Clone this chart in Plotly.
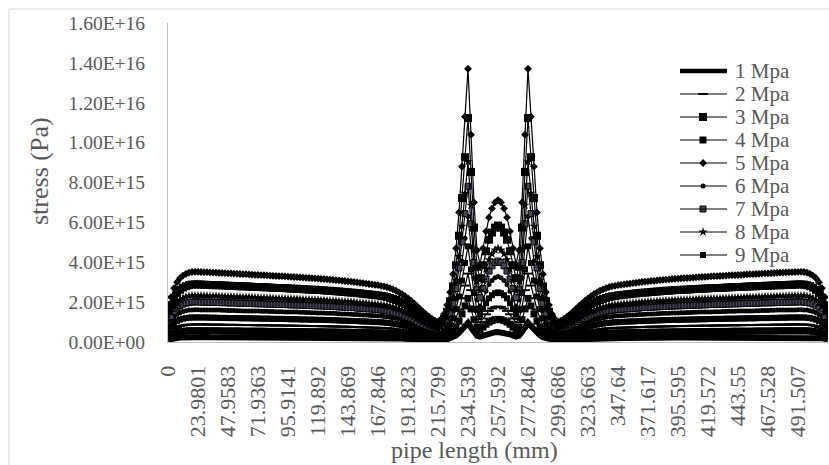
import plotly.graph_objects as go

# ---------------------------------------------------------------- data
# category axis: one label every LABEL_EVERY nodes along the pipe
TICK_LABELS = ["0", "23.9801", "47.9583", "71.9363", "95.9141", "119.892", "143.869",
               "167.846", "191.823", "215.799", "234.539", "257.592", "277.846", "299.686",
               "323.663", "347.64", "371.617", "395.595", "419.572", "443.55", "467.528",
               "491.507"]
LABEL_EVERY = 10

Y_TICKS = [0.0, 2e15, 4e15, 6e15, 8e15, 1e16, 1.2e16, 1.4e16, 1.6e16]
UNIT = 1e15  # stress values below are given in 1e15 Pa

SERIES_NAMES = ["1 Mpa", "2 Mpa", "3 Mpa", "4 Mpa", "5 Mpa",
                "6 Mpa", "7 Mpa", "8 Mpa", "9 Mpa"]

STRESS_1 = [
    0.12, 0.16, 0.19, 0.21, 0.22, 0.23, 0.24, 0.24, 0.25, 0.25,
    0.25, 0.25, 0.25, 0.25, 0.24, 0.24, 0.24, 0.24, 0.24, 0.24,
    0.24, 0.24, 0.24, 0.24, 0.24, 0.24, 0.24, 0.24, 0.24, 0.24,
    0.24, 0.23, 0.23, 0.23, 0.23, 0.23, 0.23, 0.23, 0.23, 0.23,
    0.23, 0.23, 0.23, 0.23, 0.23, 0.23, 0.23, 0.22, 0.22, 0.22,
    0.22, 0.22, 0.22, 0.22, 0.22, 0.22, 0.22, 0.22, 0.21, 0.21,
    0.21, 0.21, 0.21, 0.21, 0.21, 0.21, 0.21, 0.20, 0.20, 0.20,
    0.20, 0.20, 0.20, 0.19, 0.19, 0.18, 0.18, 0.17, 0.17, 0.16,
    0.15, 0.14, 0.14, 0.13, 0.12, 0.11, 0.10, 0.09, 0.08, 0.07,
    0.07, 0.08, 0.10, 0.13, 0.18, 0.24, 0.33, 0.46, 0.62, 0.79,
    0.96, 0.73, 0.49, 0.32, 0.27, 0.33, 0.39, 0.44, 0.47, 0.49,
    0.50,
    0.49, 0.47, 0.44, 0.39, 0.33, 0.27, 0.32, 0.49, 0.73, 0.96,
    0.79, 0.62, 0.46, 0.33, 0.24, 0.18, 0.13, 0.10, 0.08, 0.07,
    0.07, 0.08, 0.09, 0.10, 0.11, 0.12, 0.13, 0.14, 0.14, 0.15,
    0.16, 0.17, 0.17, 0.18, 0.18, 0.19, 0.19, 0.20, 0.20, 0.20,
    0.20, 0.20, 0.20, 0.21, 0.21, 0.21, 0.21, 0.21, 0.21, 0.21,
    0.21, 0.21, 0.22, 0.22, 0.22, 0.22, 0.22, 0.22, 0.22, 0.22,
    0.22, 0.22, 0.22, 0.23, 0.23, 0.23, 0.23, 0.23, 0.23, 0.23,
    0.23, 0.23, 0.23, 0.23, 0.23, 0.23, 0.23, 0.23, 0.23, 0.24,
    0.24, 0.24, 0.24, 0.24, 0.24, 0.24, 0.24, 0.24, 0.24, 0.24,
    0.24, 0.24, 0.24, 0.24, 0.24, 0.25, 0.25, 0.25, 0.25, 0.25,
    0.25, 0.25, 0.24, 0.24, 0.23, 0.22, 0.21, 0.19, 0.16, 0.12,
]

STRESS_2 = [
    0.41, 0.56, 0.68, 0.75, 0.80, 0.83, 0.86, 0.87, 0.88, 0.88,
    0.88, 0.88, 0.88, 0.88, 0.87, 0.87, 0.87, 0.87, 0.87, 0.86,
    0.86, 0.86, 0.86, 0.86, 0.85, 0.85, 0.85, 0.85, 0.85, 0.84,
    0.84, 0.84, 0.84, 0.84, 0.83, 0.83, 0.83, 0.83, 0.83, 0.82,
    0.82, 0.82, 0.82, 0.81, 0.81, 0.81, 0.81, 0.80, 0.80, 0.80,
    0.80, 0.79, 0.79, 0.79, 0.78, 0.78, 0.78, 0.77, 0.77, 0.77,
    0.76, 0.76, 0.75, 0.75, 0.74, 0.74, 0.73, 0.73, 0.72, 0.72,
    0.71, 0.71, 0.70, 0.69, 0.68, 0.66, 0.64, 0.62, 0.60, 0.58,
    0.55, 0.52, 0.49, 0.45, 0.42, 0.38, 0.35, 0.32, 0.29, 0.27,
    0.26, 0.29, 0.35, 0.46, 0.63, 0.85, 1.18, 1.63, 2.20, 2.83,
    3.43, 2.60, 1.75, 1.15, 0.98, 1.18, 1.39, 1.56, 1.68, 1.75,
    1.78,
    1.75, 1.68, 1.56, 1.39, 1.18, 0.98, 1.15, 1.75, 2.60, 3.43,
    2.83, 2.20, 1.63, 1.18, 0.85, 0.63, 0.46, 0.35, 0.29, 0.26,
    0.27, 0.29, 0.32, 0.35, 0.38, 0.42, 0.45, 0.49, 0.52, 0.55,
    0.58, 0.60, 0.62, 0.64, 0.66, 0.68, 0.69, 0.70, 0.71, 0.71,
    0.72, 0.72, 0.73, 0.73, 0.74, 0.74, 0.75, 0.75, 0.76, 0.76,
    0.77, 0.77, 0.77, 0.78, 0.78, 0.78, 0.79, 0.79, 0.79, 0.80,
    0.80, 0.80, 0.80, 0.81, 0.81, 0.81, 0.81, 0.82, 0.82, 0.82,
    0.82, 0.83, 0.83, 0.83, 0.83, 0.83, 0.84, 0.84, 0.84, 0.84,
    0.84, 0.85, 0.85, 0.85, 0.85, 0.85, 0.86, 0.86, 0.86, 0.86,
    0.86, 0.87, 0.87, 0.87, 0.87, 0.87, 0.88, 0.88, 0.88, 0.88,
    0.88, 0.88, 0.87, 0.86, 0.83, 0.80, 0.75, 0.68, 0.56, 0.41,
]

STRESS_3 = [
    1.35, 1.85, 2.21, 2.46, 2.62, 2.73, 2.80, 2.85, 2.88, 2.89,
    2.89, 2.88, 2.87, 2.87, 2.86, 2.85, 2.85, 2.85, 2.84, 2.83,
    2.82, 2.82, 2.81, 2.80, 2.80, 2.79, 2.79, 2.78, 2.77, 2.76,
    2.76, 2.75, 2.75, 2.74, 2.73, 2.72, 2.71, 2.71, 2.71, 2.70,
    2.69, 2.68, 2.67, 2.67, 2.66, 2.65, 2.64, 2.63, 2.62, 2.62,
    2.61, 2.60, 2.59, 2.57, 2.57, 2.56, 2.54, 2.53, 2.52, 2.51,
    2.49, 2.48, 2.47, 2.45, 2.44, 2.42, 2.40, 2.39, 2.37, 2.35,
    2.34, 2.31, 2.29, 2.26, 2.21, 2.16, 2.11, 2.04, 1.97, 1.89,
    1.80, 1.70, 1.59, 1.48, 1.36, 1.25, 1.14, 1.04, 0.95, 0.88,
    0.84, 0.94, 1.15, 1.52, 2.05, 2.79, 3.85, 5.33, 7.22, 9.27,
    11.23, 8.53, 5.74, 3.77, 3.20, 3.85, 4.55, 5.13, 5.49, 5.74,
    5.84,
    5.74, 5.49, 5.13, 4.55, 3.85, 3.20, 3.77, 5.74, 8.53, 11.23,
    9.27, 7.22, 5.33, 3.85, 2.79, 2.05, 1.52, 1.15, 0.94, 0.84,
    0.88, 0.95, 1.04, 1.14, 1.25, 1.36, 1.48, 1.59, 1.70, 1.80,
    1.89, 1.97, 2.04, 2.11, 2.16, 2.21, 2.26, 2.29, 2.31, 2.34,
    2.35, 2.37, 2.39, 2.40, 2.42, 2.44, 2.45, 2.47, 2.48, 2.49,
    2.51, 2.52, 2.53, 2.54, 2.56, 2.57, 2.57, 2.59, 2.60, 2.61,
    2.62, 2.62, 2.63, 2.64, 2.65, 2.66, 2.67, 2.67, 2.68, 2.69,
    2.70, 2.71, 2.71, 2.71, 2.72, 2.73, 2.74, 2.75, 2.75, 2.76,
    2.76, 2.77, 2.78, 2.79, 2.79, 2.80, 2.80, 2.81, 2.82, 2.82,
    2.83, 2.84, 2.85, 2.85, 2.85, 2.86, 2.87, 2.87, 2.88, 2.89,
    2.89, 2.88, 2.85, 2.80, 2.73, 2.62, 2.46, 2.21, 1.85, 1.35,
]

STRESS_4 = [
    0.26, 0.36, 0.43, 0.48, 0.51, 0.53, 0.55, 0.56, 0.56, 0.56,
    0.56, 0.56, 0.56, 0.56, 0.56, 0.56, 0.56, 0.56, 0.55, 0.55,
    0.55, 0.55, 0.55, 0.55, 0.55, 0.54, 0.54, 0.54, 0.54, 0.54,
    0.54, 0.54, 0.54, 0.53, 0.53, 0.53, 0.53, 0.53, 0.53, 0.53,
    0.52, 0.52, 0.52, 0.52, 0.52, 0.52, 0.52, 0.51, 0.51, 0.51,
    0.51, 0.51, 0.51, 0.50, 0.50, 0.50, 0.50, 0.49, 0.49, 0.49,
    0.49, 0.48, 0.48, 0.48, 0.48, 0.47, 0.47, 0.47, 0.46, 0.46,
    0.46, 0.45, 0.45, 0.44, 0.43, 0.42, 0.41, 0.40, 0.38, 0.37,
    0.35, 0.33, 0.31, 0.29, 0.27, 0.24, 0.22, 0.20, 0.19, 0.17,
    0.16, 0.18, 0.22, 0.30, 0.40, 0.54, 0.75, 1.04, 1.41, 1.81,
    2.19, 1.66, 1.12, 0.74, 0.62, 0.75, 0.89, 1.00, 1.07, 1.12,
    1.14,
    1.12, 1.07, 1.00, 0.89, 0.75, 0.62, 0.74, 1.12, 1.66, 2.19,
    1.81, 1.41, 1.04, 0.75, 0.54, 0.40, 0.30, 0.22, 0.18, 0.16,
    0.17, 0.19, 0.20, 0.22, 0.24, 0.27, 0.29, 0.31, 0.33, 0.35,
    0.37, 0.38, 0.40, 0.41, 0.42, 0.43, 0.44, 0.45, 0.45, 0.46,
    0.46, 0.46, 0.47, 0.47, 0.47, 0.48, 0.48, 0.48, 0.48, 0.49,
    0.49, 0.49, 0.49, 0.50, 0.50, 0.50, 0.50, 0.51, 0.51, 0.51,
    0.51, 0.51, 0.51, 0.52, 0.52, 0.52, 0.52, 0.52, 0.52, 0.52,
    0.53, 0.53, 0.53, 0.53, 0.53, 0.53, 0.53, 0.54, 0.54, 0.54,
    0.54, 0.54, 0.54, 0.54, 0.54, 0.55, 0.55, 0.55, 0.55, 0.55,
    0.55, 0.55, 0.56, 0.56, 0.56, 0.56, 0.56, 0.56, 0.56, 0.56,
    0.56, 0.56, 0.56, 0.55, 0.53, 0.51, 0.48, 0.43, 0.36, 0.26,
]

STRESS_5 = [
    1.65, 2.25, 2.70, 3.00, 3.20, 3.33, 3.42, 3.48, 3.51, 3.52,
    3.52, 3.51, 3.50, 3.50, 3.49, 3.48, 3.48, 3.47, 3.46, 3.45,
    3.44, 3.44, 3.43, 3.42, 3.41, 3.40, 3.40, 3.39, 3.38, 3.37,
    3.36, 3.35, 3.35, 3.34, 3.33, 3.32, 3.31, 3.30, 3.30, 3.29,
    3.28, 3.27, 3.26, 3.25, 3.24, 3.23, 3.22, 3.21, 3.20, 3.19,
    3.18, 3.17, 3.16, 3.14, 3.13, 3.12, 3.10, 3.09, 3.07, 3.06,
    3.04, 3.03, 3.01, 2.99, 2.97, 2.95, 2.93, 2.91, 2.89, 2.87,
    2.85, 2.82, 2.79, 2.75, 2.70, 2.64, 2.57, 2.49, 2.40, 2.30,
    2.19, 2.07, 1.94, 1.80, 1.66, 1.52, 1.39, 1.27, 1.16, 1.07,
    1.02, 1.15, 1.40, 1.85, 2.50, 3.40, 4.70, 6.50, 8.80, 11.30,
    13.70, 10.40, 7.00, 4.60, 3.90, 4.70, 5.55, 6.25, 6.70, 7.00,
    7.12,
    7.00, 6.70, 6.25, 5.55, 4.70, 3.90, 4.60, 7.00, 10.40, 13.70,
    11.30, 8.80, 6.50, 4.70, 3.40, 2.50, 1.85, 1.40, 1.15, 1.02,
    1.07, 1.16, 1.27, 1.39, 1.52, 1.66, 1.80, 1.94, 2.07, 2.19,
    2.30, 2.40, 2.49, 2.57, 2.64, 2.70, 2.75, 2.79, 2.82, 2.85,
    2.87, 2.89, 2.91, 2.93, 2.95, 2.97, 2.99, 3.01, 3.03, 3.04,
    3.06, 3.07, 3.09, 3.10, 3.12, 3.13, 3.14, 3.16, 3.17, 3.18,
    3.19, 3.20, 3.21, 3.22, 3.23, 3.24, 3.25, 3.26, 3.27, 3.28,
    3.29, 3.30, 3.30, 3.31, 3.32, 3.33, 3.34, 3.35, 3.35, 3.36,
    3.37, 3.38, 3.39, 3.40, 3.40, 3.41, 3.42, 3.43, 3.44, 3.44,
    3.45, 3.46, 3.47, 3.48, 3.48, 3.49, 3.50, 3.50, 3.51, 3.52,
    3.52, 3.51, 3.48, 3.42, 3.33, 3.20, 3.00, 2.70, 2.25, 1.65,
]

STRESS_6 = [
    0.76, 1.04, 1.24, 1.38, 1.47, 1.53, 1.57, 1.60, 1.61, 1.62,
    1.62, 1.61, 1.61, 1.61, 1.61, 1.60, 1.60, 1.60, 1.59, 1.59,
    1.58, 1.58, 1.58, 1.57, 1.57, 1.56, 1.56, 1.56, 1.55, 1.55,
    1.55, 1.54, 1.54, 1.54, 1.53, 1.53, 1.52, 1.52, 1.52, 1.51,
    1.51, 1.50, 1.50, 1.50, 1.49, 1.49, 1.48, 1.48, 1.47, 1.47,
    1.46, 1.46, 1.45, 1.44, 1.44, 1.44, 1.43, 1.42, 1.41, 1.41,
    1.40, 1.39, 1.38, 1.38, 1.37, 1.36, 1.35, 1.34, 1.33, 1.32,
    1.31, 1.30, 1.28, 1.27, 1.24, 1.21, 1.18, 1.15, 1.10, 1.06,
    1.01, 0.95, 0.89, 0.83, 0.76, 0.70, 0.64, 0.58, 0.53, 0.49,
    0.47, 0.53, 0.64, 0.85, 1.15, 1.56, 2.16, 2.99, 4.05, 5.20,
    6.30, 4.78, 3.22, 2.12, 1.79, 2.16, 2.55, 2.88, 3.08, 3.22,
    3.28,
    3.22, 3.08, 2.88, 2.55, 2.16, 1.79, 2.12, 3.22, 4.78, 6.30,
    5.20, 4.05, 2.99, 2.16, 1.56, 1.15, 0.85, 0.64, 0.53, 0.47,
    0.49, 0.53, 0.58, 0.64, 0.70, 0.76, 0.83, 0.89, 0.95, 1.01,
    1.06, 1.10, 1.15, 1.18, 1.21, 1.24, 1.27, 1.28, 1.30, 1.31,
    1.32, 1.33, 1.34, 1.35, 1.36, 1.37, 1.38, 1.38, 1.39, 1.40,
    1.41, 1.41, 1.42, 1.43, 1.44, 1.44, 1.44, 1.45, 1.46, 1.46,
    1.47, 1.47, 1.48, 1.48, 1.49, 1.49, 1.50, 1.50, 1.50, 1.51,
    1.51, 1.52, 1.52, 1.52, 1.53, 1.53, 1.54, 1.54, 1.54, 1.55,
    1.55, 1.55, 1.56, 1.56, 1.56, 1.57, 1.57, 1.58, 1.58, 1.58,
    1.59, 1.59, 1.60, 1.60, 1.60, 1.61, 1.61, 1.61, 1.61, 1.62,
    1.62, 1.61, 1.60, 1.57, 1.53, 1.47, 1.38, 1.24, 1.04, 0.76,
]

STRESS_7 = [
    0.94, 1.28, 1.54, 1.71, 1.82, 1.90, 1.95, 1.98, 2.00, 2.01,
    2.01, 2.00, 2.00, 2.00, 1.99, 1.98, 1.98, 1.98, 1.97, 1.97,
    1.96, 1.96, 1.96, 1.95, 1.94, 1.94, 1.94, 1.93, 1.93, 1.92,
    1.92, 1.91, 1.91, 1.90, 1.90, 1.89, 1.89, 1.88, 1.88, 1.88,
    1.87, 1.86, 1.86, 1.85, 1.85, 1.84, 1.84, 1.83, 1.82, 1.82,
    1.81, 1.81, 1.80, 1.79, 1.78, 1.78, 1.77, 1.76, 1.75, 1.74,
    1.73, 1.73, 1.72, 1.70, 1.69, 1.68, 1.67, 1.66, 1.65, 1.64,
    1.62, 1.61, 1.59, 1.57, 1.54, 1.50, 1.46, 1.42, 1.37, 1.31,
    1.25, 1.18, 1.11, 1.03, 0.95, 0.87, 0.79, 0.72, 0.66, 0.61,
    0.58, 0.66, 0.80, 1.05, 1.43, 1.94, 2.68, 3.71, 5.02, 6.44,
    7.81, 5.93, 3.99, 2.62, 2.22, 2.68, 3.16, 3.56, 3.82, 3.99,
    4.06,
    3.99, 3.82, 3.56, 3.16, 2.68, 2.22, 2.62, 3.99, 5.93, 7.81,
    6.44, 5.02, 3.71, 2.68, 1.94, 1.43, 1.05, 0.80, 0.66, 0.58,
    0.61, 0.66, 0.72, 0.79, 0.87, 0.95, 1.03, 1.11, 1.18, 1.25,
    1.31, 1.37, 1.42, 1.46, 1.50, 1.54, 1.57, 1.59, 1.61, 1.62,
    1.64, 1.65, 1.66, 1.67, 1.68, 1.69, 1.70, 1.72, 1.73, 1.73,
    1.74, 1.75, 1.76, 1.77, 1.78, 1.78, 1.79, 1.80, 1.81, 1.81,
    1.82, 1.82, 1.83, 1.84, 1.84, 1.85, 1.85, 1.86, 1.86, 1.87,
    1.88, 1.88, 1.88, 1.89, 1.89, 1.90, 1.90, 1.91, 1.91, 1.92,
    1.92, 1.93, 1.93, 1.94, 1.94, 1.94, 1.95, 1.96, 1.96, 1.96,
    1.97, 1.97, 1.98, 1.98, 1.98, 1.99, 2.00, 2.00, 2.00, 2.01,
    2.01, 2.00, 1.98, 1.95, 1.90, 1.82, 1.71, 1.54, 1.28, 0.94,
]

STRESS_8 = [
    1.09, 1.49, 1.78, 1.98, 2.11, 2.20, 2.26, 2.30, 2.32, 2.32,
    2.32, 2.32, 2.31, 2.31, 2.30, 2.30, 2.30, 2.29, 2.28, 2.28,
    2.27, 2.27, 2.26, 2.26, 2.25, 2.24, 2.24, 2.24, 2.23, 2.22,
    2.22, 2.21, 2.21, 2.20, 2.20, 2.19, 2.18, 2.18, 2.18, 2.17,
    2.16, 2.16, 2.15, 2.15, 2.14, 2.13, 2.13, 2.12, 2.11, 2.11,
    2.10, 2.09, 2.09, 2.07, 2.07, 2.06, 2.05, 2.04, 2.03, 2.02,
    2.01, 2.00, 1.99, 1.97, 1.96, 1.95, 1.93, 1.92, 1.91, 1.89,
    1.88, 1.86, 1.84, 1.82, 1.78, 1.74, 1.70, 1.64, 1.58, 1.52,
    1.45, 1.37, 1.28, 1.19, 1.10, 1.00, 0.92, 0.84, 0.77, 0.71,
    0.67, 0.76, 0.92, 1.22, 1.65, 2.24, 3.10, 4.29, 5.81, 7.46,
    9.04, 6.86, 4.62, 3.04, 2.57, 3.10, 3.66, 4.13, 4.42, 4.62,
    4.70,
    4.62, 4.42, 4.13, 3.66, 3.10, 2.57, 3.04, 4.62, 6.86, 9.04,
    7.46, 5.81, 4.29, 3.10, 2.24, 1.65, 1.22, 0.92, 0.76, 0.67,
    0.71, 0.77, 0.84, 0.92, 1.00, 1.10, 1.19, 1.28, 1.37, 1.45,
    1.52, 1.58, 1.64, 1.70, 1.74, 1.78, 1.82, 1.84, 1.86, 1.88,
    1.89, 1.91, 1.92, 1.93, 1.95, 1.96, 1.97, 1.99, 2.00, 2.01,
    2.02, 2.03, 2.04, 2.05, 2.06, 2.07, 2.07, 2.09, 2.09, 2.10,
    2.11, 2.11, 2.12, 2.13, 2.13, 2.14, 2.15, 2.15, 2.16, 2.16,
    2.17, 2.18, 2.18, 2.18, 2.19, 2.20, 2.20, 2.21, 2.21, 2.22,
    2.22, 2.23, 2.24, 2.24, 2.24, 2.25, 2.26, 2.26, 2.27, 2.27,
    2.28, 2.28, 2.29, 2.30, 2.30, 2.30, 2.31, 2.31, 2.32, 2.32,
    2.32, 2.32, 2.30, 2.26, 2.20, 2.11, 1.98, 1.78, 1.49, 1.09,
]

STRESS_9 = [
    0.58, 0.79, 0.95, 1.05, 1.12, 1.17, 1.20, 1.22, 1.23, 1.23,
    1.23, 1.23, 1.23, 1.23, 1.22, 1.22, 1.22, 1.21, 1.21, 1.21,
    1.20, 1.20, 1.20, 1.20, 1.19, 1.19, 1.19, 1.19, 1.18, 1.18,
    1.18, 1.17, 1.17, 1.17, 1.17, 1.16, 1.16, 1.16, 1.16, 1.15,
    1.15, 1.14, 1.14, 1.14, 1.13, 1.13, 1.13, 1.12, 1.12, 1.12,
    1.11, 1.11, 1.11, 1.10, 1.10, 1.09, 1.09, 1.08, 1.07, 1.07,
    1.06, 1.06, 1.05, 1.05, 1.04, 1.03, 1.03, 1.02, 1.01, 1.00,
    1.00, 0.99, 0.98, 0.96, 0.95, 0.92, 0.90, 0.87, 0.84, 0.81,
    0.77, 0.72, 0.68, 0.63, 0.58, 0.53, 0.49, 0.44, 0.41, 0.37,
    0.36, 0.40, 0.49, 0.65, 0.88, 1.19, 1.65, 2.28, 3.08, 3.96,
    4.80, 3.64, 2.45, 1.61, 1.37, 1.65, 1.94, 2.19, 2.35, 2.45,
    2.49,
    2.45, 2.35, 2.19, 1.94, 1.65, 1.37, 1.61, 2.45, 3.64, 4.80,
    3.96, 3.08, 2.28, 1.65, 1.19, 0.88, 0.65, 0.49, 0.40, 0.36,
    0.37, 0.41, 0.44, 0.49, 0.53, 0.58, 0.63, 0.68, 0.72, 0.77,
    0.81, 0.84, 0.87, 0.90, 0.92, 0.95, 0.96, 0.98, 0.99, 1.00,
    1.00, 1.01, 1.02, 1.03, 1.03, 1.04, 1.05, 1.05, 1.06, 1.06,
    1.07, 1.07, 1.08, 1.09, 1.09, 1.10, 1.10, 1.11, 1.11, 1.11,
    1.12, 1.12, 1.12, 1.13, 1.13, 1.13, 1.14, 1.14, 1.14, 1.15,
    1.15, 1.16, 1.16, 1.16, 1.16, 1.17, 1.17, 1.17, 1.17, 1.18,
    1.18, 1.18, 1.19, 1.19, 1.19, 1.19, 1.20, 1.20, 1.20, 1.20,
    1.21, 1.21, 1.21, 1.22, 1.22, 1.22, 1.23, 1.23, 1.23, 1.23,
    1.23, 1.23, 1.22, 1.20, 1.17, 1.12, 1.05, 0.95, 0.79, 0.58,
]

SERIES_VALUES = [STRESS_1, STRESS_2, STRESS_3, STRESS_4, STRESS_5,
                 STRESS_6, STRESS_7, STRESS_8, STRESS_9]

# ---------------------------------------------------------------- styles
INK = "#000000"
TEXT = "#595959"
AXIS = "#bfbfbf"
FONT = "Liberation Serif"

STYLES = [
    dict(lw=6, marker=None),
    dict(lw=1.2, marker=dict(symbol="line-ew", size=7, line=dict(color=INK, width=2))),
    dict(lw=1.2, marker=dict(symbol="square", size=8, color=INK)),
    dict(lw=1.2, marker=dict(symbol="square", size=7, color=INK)),
    dict(lw=1.2, marker=dict(symbol="diamond", size=6, color=INK)),
    dict(lw=1.2, marker=dict(symbol="circle", size=5, color=INK)),
    dict(lw=1.2, marker=dict(symbol="square", size=6, color="#45455a",
                             line=dict(color=INK, width=1))),
    dict(lw=1.2, marker=dict(symbol="star", size=7, color=INK)),
    dict(lw=1.2, marker=dict(symbol="square", size=6, color=INK)),
]

# plot-area frame in pixels
W, H = 829, 465
L, R, T, B = 168, 828, 23, 342


def px_x(p):
    return (p - L) / (R - L)


def px_y(p):
    return (B - p) / (B - T)


n_points = len(STRESS_5)
assert all(len(s) == n_points for s in SERIES_VALUES)
nodes = list(range(n_points))

fig = go.Figure()

for name, vals, st in zip(SERIES_NAMES, SERIES_VALUES, STYLES):
    fig.add_trace(go.Scatter(
        x=nodes, y=[v * UNIT for v in vals], name=name,
        mode="lines" if st["marker"] is None else "lines+markers",
        line=dict(color=INK, width=st["lw"]),
        marker=st["marker"], showlegend=False,
    ))

# legend, laid out on a pixel-scaled overlay axis
LEG_TOP, LEG_STEP = 71, 23
LEG_X0, LEG_X1, LEG_MARK, LEG_TEXT = 680, 727, 703, 733
for k, (name, st) in enumerate(zip(SERIES_NAMES, STYLES)):
    yk = LEG_TOP + LEG_STEP * k
    fig.add_shape(type="line", xref="x2", yref="y2", x0=LEG_X0, x1=LEG_X1,
                  y0=yk, y1=yk, line=dict(color=INK, width=min(st["lw"], 4.5)))
    if st["marker"] is not None:
        fig.add_trace(go.Scatter(x=[LEG_MARK], y=[yk], xaxis="x2", yaxis="y2",
                                 mode="markers", marker=st["marker"],
                                 showlegend=False, hoverinfo="skip"))
    fig.add_annotation(xref="x2", yref="y2", x=LEG_TEXT, y=yk, text=name,
                       showarrow=False, xanchor="left", yanchor="middle",
                       font=dict(family=FONT, size=21, color=TEXT))

# axis titles
fig.add_annotation(xref="paper", yref="paper", x=px_x(474), y=px_y(450),
                   text="pipe length (mm)", showarrow=False,
                   xanchor="center", yanchor="middle",
                   font=dict(family=FONT, size=24, color=TEXT))
fig.add_annotation(xref="paper", yref="paper", x=px_x(39), y=px_y(171),
                   text="stress (Pa)", showarrow=False, textangle=-90,
                   xanchor="center", yanchor="middle",
                   font=dict(family=FONT, size=26, color=TEXT))

# chart-area border
fig.add_shape(type="rect", xref="paper", yref="paper",
              x0=px_x(9), x1=px_x(845), y0=px_y(480), y1=px_y(9),
              line=dict(color="#d9d9d9", width=1), layer="below")

fig.update_layout(
    width=W, height=H,
    margin=dict(l=L, r=W - R, t=T, b=H - B),
    paper_bgcolor="white", plot_bgcolor="white",
    showlegend=False,
    xaxis=dict(
        range=[0, n_points - 1],
        tickmode="array",
        tickvals=[LABEL_EVERY * k for k in range(len(TICK_LABELS))],
        ticktext=TICK_LABELS,
        tickangle=-90,
        tickfont=dict(family=FONT, size=22, color=TEXT),
        ticks="", ticklabelstandoff=14,
        showline=True, linecolor=AXIS, linewidth=1,
        showgrid=False, zeroline=False,
    ),
    yaxis=dict(
        range=[Y_TICKS[0], Y_TICKS[-1]],
        tickmode="array",
        tickvals=Y_TICKS,
        ticktext=[f"{v:.2E}" for v in Y_TICKS],
        tickfont=dict(family=FONT, size=19.5, color=TEXT),
        ticks="", ticklabelstandoff=18,
        showline=True, linecolor=AXIS, linewidth=1,
        showgrid=False, zeroline=False,
    ),
    xaxis2=dict(overlaying="x", anchor="y2", range=[L, R], visible=False),
    yaxis2=dict(overlaying="y", anchor="x2", range=[B, T], visible=False),
)

fig.write_html("out.html")
